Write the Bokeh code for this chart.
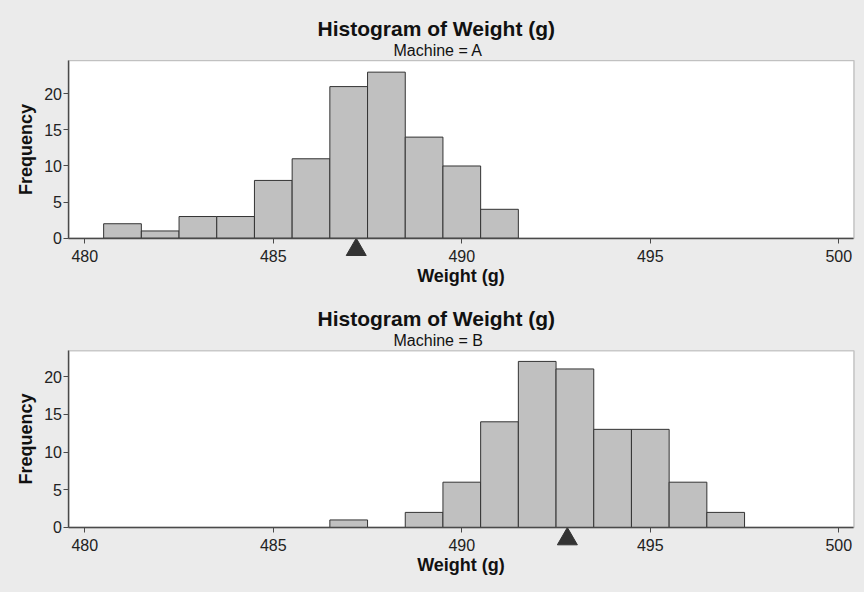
import math
from bokeh.plotting import figure
from bokeh.models import Title, FixedTicker, Range1d, BoxAnnotation
from bokeh.layouts import column
from bokeh.embed import file_html
from bokeh.resources import INLINE

# ---- data ----
bins_a = [481, 482, 483, 484, 485, 486, 487, 488, 489, 490, 491]
counts_a = [2, 1, 3, 3, 8, 11, 21, 23, 14, 10, 4]
mean_a = 487.2

bins_b = [487, 489, 490, 491, 492, 493, 494, 495, 496, 497]
counts_b = [1, 2, 6, 14, 22, 21, 13, 13, 6, 2]
mean_b = 492.8

x_ticks = [480, 485, 490, 495, 500]
y_ticks = [0, 5, 10, 15, 20]
x_lo, x_hi = 479.58, 500.4          # axis limits (data region)

FONT = "Liberation Sans"
PANEL_BG = "#ebebeb"
BAR_FILL = "#c0c0c0"
DARK = "#333333"
EDGE = "#4a4a4a"
FRAME_W = 864


def make_panel(bins, counts, mean, machine, ytop, yr, top_border, frame_h):
    # full-width frame; data region drawn as a white box inside it
    px_per_x = 37.7
    x0 = 480 - 84.3 / px_per_x
    x1 = x0 + FRAME_W / px_per_x
    p = figure(output_backend="svg", toolbar_location=None,
               x_range=Range1d(x0, x1), y_range=Range1d(*yr),
               frame_width=FRAME_W, frame_height=frame_h,
               min_border_left=0, min_border_right=0, min_border_top=top_border,
               min_border_bottom=0)
    p.border_fill_color = PANEL_BG
    p.background_fill_color = PANEL_BG
    p.outline_line_color = None
    p.xgrid.visible = False
    p.ygrid.visible = False

    p.add_layout(BoxAnnotation(left=x_lo, right=x_hi, bottom=0, top=ytop,
                               fill_color="white", fill_alpha=1,
                               line_color=EDGE, line_width=1.4,
                               level="underlay"))

    p.vbar(x=bins, width=1, top=counts, bottom=0, fill_color=BAR_FILL,
           line_color=DARK, line_width=1)

    # mean marker: apex touching the baseline
    tri_size = 20
    px_per_y = frame_h / (yr[1] - yr[0])
    tri_y = -(tri_size * math.sqrt(3) / 2 * 2 / 3) / px_per_y
    p.scatter(x=[mean], y=[tri_y], marker="triangle", size=tri_size,
              fill_color=DARK, line_color=DARK)

    # titles
    p.add_layout(Title(text=f"Machine = {machine}", align="left", offset=393,
                       text_font=FONT, text_font_size="16px", text_font_style="normal",
                       text_color="#111111", standoff=0), "above")
    p.add_layout(Title(text="Histogram of Weight (g)", align="left", offset=317,
                       text_font=FONT, text_font_size="21px", text_font_style="bold",
                       text_color="#111111", standoff=0), "above")

    for ax in (p.xaxis[0], p.yaxis[0]):
        ax.axis_line_color = EDGE
        ax.axis_line_width = 1.4
        ax.major_tick_line_color = EDGE
        ax.major_tick_out = 5
        ax.major_tick_in = 0
        ax.minor_tick_out = 0
        ax.minor_tick_in = 0
        ax.major_label_text_font = FONT
        ax.major_label_text_font_size = "16px"
        ax.major_label_text_color = "#222222"
        ax.axis_label_text_font = FONT
        ax.axis_label_text_font_size = "18px"
        ax.axis_label_text_font_style = "bold"
        ax.axis_label_text_color = "#111111"

    p.xaxis.fixed_location = 0
    p.yaxis.fixed_location = x_lo
    p.xaxis.bounds = (x_lo, x_hi)
    p.yaxis.bounds = (0, ytop)
    p.xaxis.ticker = FixedTicker(ticks=x_ticks)
    p.yaxis.ticker = FixedTicker(ticks=y_ticks)
    p.xaxis.axis_label = "Weight (g)"
    p.yaxis.axis_label = "Frequency"
    p.xaxis.major_label_standoff = 7
    p.xaxis.axis_label_standoff = 0
    p.yaxis.major_label_standoff = 2
    p.yaxis.axis_label_standoff = 5
    return p


pa = make_panel(bins_a, counts_a, mean_a, "A", 24.6, (-7.94, 24.89), 58, 237)
pb = make_panel(bins_b, counts_b, mean_b, "B", 23.4, (-8.61, 23.71), 53, 244)

layout = column(pa, pb, spacing=0, styles={"background-color": PANEL_BG})
open("out.html", "w").write(file_html(layout, INLINE))
